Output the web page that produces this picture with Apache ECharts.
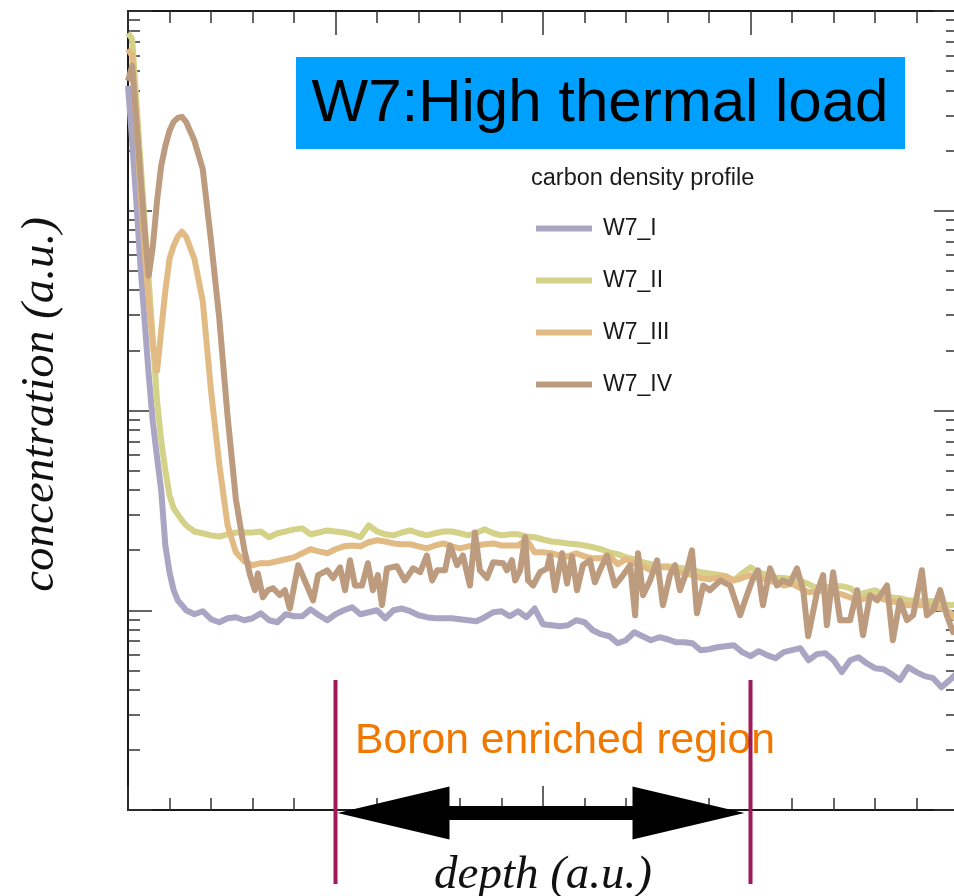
<!DOCTYPE html>
<html><head><meta charset="utf-8">
<script src="https://cdn.jsdelivr.net/npm/echarts@6/dist/echarts.min.js"></script>
<style>html,body{margin:0;padding:0;background:#fff}#c{width:954px;height:896px}</style>
</head><body><div id="c"></div>
<script>
// depth (a.u.) sample positions for W7_I, W7_II, W7_III
const depth = [0,1,2,3,4,5,6,7,8,9,10,11,12,13,14,
16,18,20,22,24,26,28,30,32,34,36,38,40,42,44,46,48,50,52,54,56,58,60,62,64,66,68,70,72,74,
76,78,80,82,84,86,88,90,92,94,96,98,100,102,104,106,108,110,112,114,116,118,120,122,124,126,128,130,132,134,
136,138,140,142,144,146,148,150,152,154,156,158,160,162,164,166,168,170,172,174,176,178,180,182,184,186,188,190,192,194,196,198,200];

// carbon concentration (a.u.)
const w7_I = [4217,2239,1122,531,282,150,87.1,58.2,39.8,21.1,15.5,12.6,11.2,10.6,10.0,
9.55,9.89,9.02,8.71,9.12,9.23,8.91,9.12,9.66,8.91,
8.71,9.55,9.33,9.33,10.1,9.44,8.91,9.55,10.0,10.35,
9.55,9.77,10.0,9.12,10.0,10.2,9.89,9.44,9.23,9.12,
9.12,9.12,9.02,8.91,8.81,9.23,9.77,9.89,9.33,9.89,
9.23,10.2,8.51,8.41,8.32,8.41,8.91,8.71,7.94,7.59,
7.41,6.84,7.08,7.76,7.41,7.08,7.33,7.16,6.92,6.92,
6.84,6.31,6.38,6.53,6.61,6.68,6.17,5.89,6.24,5.96,
5.75,6.17,6.31,6.46,5.62,6.03,6.10,5.62,4.90,5.62,
5.82,5.43,5.13,5.07,4.79,4.47,5.19,4.90,4.68,4.57,
4.12,4.47,4.90];

const w7_II = [7762,7244,3548,1778,891,447,224,112,70.8,50.1,37.6,32.4,30.2,28.2,26.6,
24.8,24.3,23.7,23.4,24.0,24.5,24.5,24.5,24.8,23.2,
24.3,24.8,25.4,25.7,24.0,24.5,25.1,24.8,24.5,24.0,
23.2,26.6,24.8,24.0,23.7,24.5,25.1,24.3,23.7,24.3,
24.8,24.8,24.3,23.7,24.5,25.4,24.3,23.7,24.0,24.0,
23.4,23.2,22.6,22.1,21.9,21.6,21.4,21.1,20.7,20.2,
19.5,19.1,18.4,18.0,17.4,17.0,16.6,16.6,16.4,16.2,
15.85,15.5,15.3,15.1,14.8,14.1,15.3,16.4,15.5,15.0,
14.6,14.5,14.3,14.1,13.5,12.9,13.0,13.2,13.2,12.9,
12.0,12.3,12.6,12.0,11.6,11.5,11.2,11.2,11.1,11.1,
10.8,10.6,10.7];

const w7_III = [6457,5957,2818,1259,631,355,211,158,251,398,575,668,741,785,741,
575,355,126,53.7,26.6,19.5,17.6,16.8,17.2,17.2,
17.6,18.0,18.4,19.3,20.2,19.7,19.3,20.2,20.9,21.1,
20.9,21.9,22.4,22.1,21.6,21.4,21.4,20.9,20.4,21.1,
21.6,20.9,20.4,20.9,21.1,21.4,21.6,21.1,21.1,21.1,
22.6,19.5,19.5,19.3,18.8,18.6,19.3,18.6,18.2,18.2,
18.8,17.0,18.0,17.2,16.6,15.85,16.4,16.4,15.7,15.3,
15.0,14.5,14.3,14.6,14.8,14.1,14.5,15.0,14.6,14.1,
13.8,13.3,13.6,12.9,12.3,12.4,12.6,12.3,12.0,11.6,
11.2,11.5,11.7,11.35,11.1,10.8,10.6,10.6,10.6,10.35,
10.2,9.77,8.71];

// W7_IV is noisier, read at its own (denser) depth positions
const depth_IV = [0,1,2,3,4,5,6,7,8,9,10,11,12,13,14,16,18,20,22,24,26,28,
29.4,30.6,31.3,32.5,33.7,34.9,36.6,37.8,39.0,41.0,43.1,44.6,45.8,48.0,49.4,51.1,52.3,53.5,54.7,56.4,
57.8,59.0,60.2,61.2,62.4,64.8,66.7,68.7,70.4,72.0,73.3,74.5,76.4,77.6,79.3,80.7,82.4,83.6,84.8,86.5,
88.0,90.4,91.3,92.5,93.3,94.5,95.7,96.4,97.6,99.3,101.0,101.7,102.9,104.6,105.8,107.0,108.2,109.6,
111.3,112.5,113.7,115.4,117.3,119.3,121.0,122.2,122.9,124.1,125.8,127.5,128.9,130.6,131.8,133.0,
134.7,135.9,137.1,138.6,140.2,142.7,145.1,147.5,148.7,150.4,151.8,153.0,154.7,156.4,157.8,159.5,
161.2,162.7,163.9,166.0,167.5,168.4,169.9,171.6,174.0,175.7,177.1,178.8,180.5,182.9,184.3,186.0,
187.7,189.2,191.3,192.5,194.0,195.7,197.3,198.8,200];
const w7_IV = [4467,5309,2818,1496,794,473,668,1122,1679,2113,2512,2786,2917,2951,2786,2239,1622,708,288,93.3,35.9,20.2,
15.0,12.6,15.3,11.6,12.6,12.9,11.9,12.6,10.2,16.8,13.3,11.2,15.0,15.85,14.5,16.4,12.6,17.8,13.3,13.3,
17.2,12.6,15.0,10.6,16.2,16.6,14.1,16.2,15.5,18.8,14.1,15.85,15.85,21.1,16.8,18.8,13.3,24.5,15.85,14.5,
17.4,17.2,15.85,17.8,14.1,15.85,23.2,14.1,13.3,15.5,16.2,18.8,12.6,19.3,13.6,18.6,12.6,16.8,
17.8,13.8,15.85,18.8,13.3,15.0,16.8,9.44,19.3,11.9,14.1,17.8,10.6,15.0,16.8,12.6,
15.85,19.95,9.66,13.3,12.6,14.1,13.3,9.44,11.2,14.1,15.85,10.6,16.2,13.3,14.1,13.6,
16.2,12.6,7.41,12.2,15.0,8.41,15.5,8.91,8.91,12.6,7.50,11.9,11.2,13.3,7.08,11.2,
8.91,9.44,15.85,9.44,10.0,12.6,9.44,7.76,7.94];

const seriesNames = ['W7_I','W7_II','W7_III','W7_IV'];
const seriesX = [depth, depth, depth, depth_IV];
const seriesData = [w7_I, w7_II, w7_III, w7_IV];
const seriesColors = ['#aaa5c3','#d4d189','#e2bb84','#bd9b7e'];
const yMin = 1, yMax = 10000;
const minorMultipliers = [2,3,4,5,6,7,8,9];
const regionBounds = [50, 150];   // boron enriched region (depth)

const logMinorTicks = [];
for (let d = 0; d < 4; d++) minorMultipliers.forEach(m => logMinorTicks.push(d + Math.log10(m)));

const chart = echarts.init(document.getElementById('c'), null, {renderer: 'canvas'});
const axisLineStyle = {color: '#1a1a1a', width: 2};
const tickStyle = {color: '#333', width: 1.5};
const serifItalic = {fontFamily: 'Liberation Serif', fontStyle: 'italic', fontSize: 47, color: '#111'};
const gridRect = {left: 128, top: 11, width: 830, height: 799, outerBoundsMode: 'none', containLabel: false};

function xAxisDef(pos) {
  return {
    type: 'value', gridIndex: 0, position: pos, min: 0, max: 200, interval: 50,
    axisLine: {show: true, onZero: false, lineStyle: axisLineStyle},
    axisTick: {show: true, inside: true, length: 24, lineStyle: tickStyle},
    minorTick: {show: true, splitNumber: 5, length: 12, lineStyle: tickStyle},
    axisLabel: {show: false}, splitLine: {show: false}, minorSplitLine: {show: false}
  };
}
function logAxisDef(pos) {
  return {
    type: 'log', gridIndex: 0, position: pos, offset: 0, min: yMin, max: yMax, logBase: 10, splitNumber: 4,
    axisLine: {show: true, onZero: false, lineStyle: axisLineStyle},
    axisTick: {show: true, inside: true, length: 24, lineStyle: tickStyle},
    axisLabel: {show: false}, splitLine: {show: false}
  };
}
function minorAxisDef(pos) {
  return {
    type: 'value', gridIndex: 1, position: pos, offset: 0, min: 0, max: 4,
    axisLine: {show: false},
    axisTick: {show: true, inside: true, length: 12, customValues: logMinorTicks, lineStyle: tickStyle},
    axisLabel: {show: false}, splitLine: {show: false}
  };
}

const yLeft = logAxisDef('left');
yLeft.name = 'concentration (a.u.)';
yLeft.nameLocation = 'middle';
yLeft.nameGap = 64;
yLeft.nameRotate = 90;
yLeft.nameTextStyle = Object.assign({}, serifItalic, {padding: [0, 0, 0, 12]});

const xBottom = xAxisDef('bottom');
xBottom.name = 'depth (a.u.)';
xBottom.nameLocation = 'middle';
xBottom.nameGap = 42;
xBottom.nameTextStyle = serifItalic;

chart.setOption({
  animation: false,
  backgroundColor: '#fff',
  grid: [Object.assign({}, gridRect), Object.assign({}, gridRect)],
  xAxis: [xBottom, xAxisDef('top'),
    {type: 'value', gridIndex: 1, min: 0, max: 1, show: false}],
  yAxis: [yLeft, logAxisDef('right'), minorAxisDef('left'), minorAxisDef('right')],
  legend: {
    orient: 'vertical', left: 536, top: 217, padding: 0, itemWidth: 56, itemHeight: 6, itemGap: 29,
    icon: 'rect', selectedMode: false, data: seriesNames,
    textStyle: {fontFamily: 'Liberation Sans', fontSize: 23, color: '#1a1a1a', padding: [0, 0, 0, 6]}
  },
  series: seriesNames.map((n, i) => ({
    name: n, type: 'line', xAxisIndex: 0, yAxisIndex: 0,
    data: seriesX[i].map((d, j) => [d, seriesData[i][j]]),
    showSymbol: false, smooth: false,
    lineStyle: {width: 6, color: seriesColors[i], join: 'round'},
    itemStyle: {color: seriesColors[i]}
  }))
});

const xL = chart.convertToPixel({xAxisIndex: 0}, regionBounds[0]);
const xR = chart.convertToPixel({xAxisIndex: 0}, regionBounds[1]);
const ay = 813, headL = 112, headH = 26.5, shaftH = 7;
const tipL = xL + 2, tipR = xR - 6;

chart.setOption({
  graphic: [
    {type: 'rect', id: 'tbox', shape: {x: 296, y: 57, width: 609, height: 92}, style: {fill: '#00a0fe'}, z: 10},
    {type: 'text', id: 'ttxt', x: 600, y: 104, z: 11,
      style: {text: 'W7:High thermal load', fontSize: 60, fontFamily: 'Liberation Sans', fill: '#000',
        textAlign: 'center', textVerticalAlign: 'middle', align: 'center', verticalAlign: 'middle'}},
    {type: 'text', id: 'lgtitle', x: 531, y: 179, z: 11,
      style: {text: 'carbon density profile', fontSize: 23.5, fontFamily: 'Liberation Sans', fill: '#1a1a1a',
        textAlign: 'left', textVerticalAlign: 'middle', align: 'left', verticalAlign: 'middle'}},
    {type: 'text', id: 'boron', x: 355, y: 741, z: 11,
      style: {text: 'Boron enriched region', fontSize: 42.7, fontFamily: 'Liberation Sans', fill: '#f07800',
        textAlign: 'left', textVerticalAlign: 'middle', align: 'left', verticalAlign: 'middle'}},
    {type: 'rect', id: 'vl', shape: {x: xL - 2, y: 680, width: 4, height: 204}, style: {fill: '#9e1a5a'}, z: 12},
    {type: 'rect', id: 'vr', shape: {x: xR - 2, y: 680, width: 4, height: 204}, style: {fill: '#9e1a5a'}, z: 12},
    {type: 'polygon', id: 'arrow', z: 13,
      shape: {points: [
        [tipL, ay], [tipL + headL, ay - headH], [tipL + headL, ay - shaftH],
        [tipR - headL, ay - shaftH], [tipR - headL, ay - headH], [tipR, ay],
        [tipR - headL, ay + headH], [tipR - headL, ay + shaftH],
        [tipL + headL, ay + shaftH], [tipL + headL, ay + headH]
      ]},
      style: {fill: '#000'}}
  ]
});
</script>
</body></html>
